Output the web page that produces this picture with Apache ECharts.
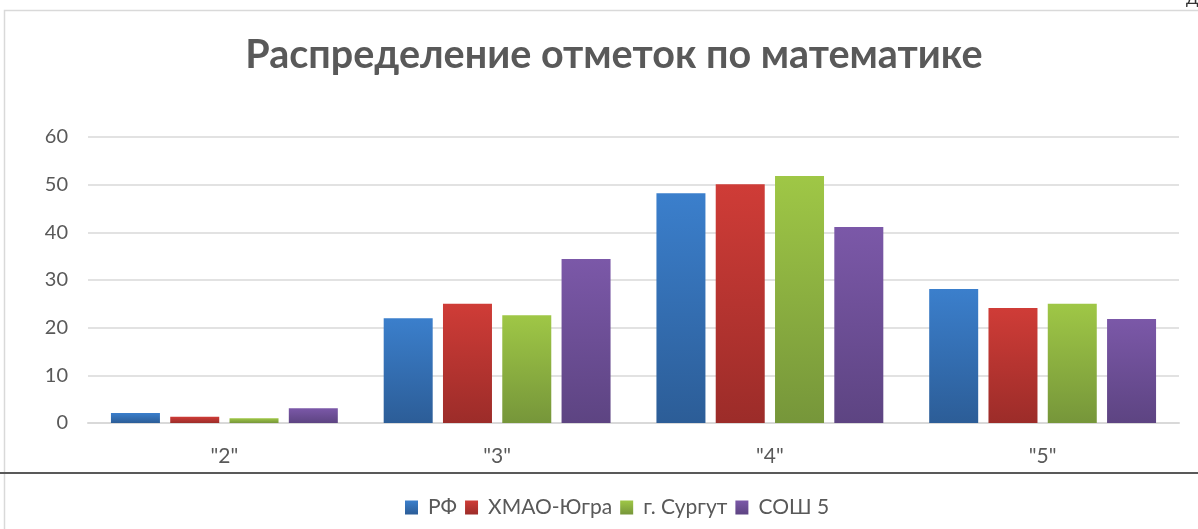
<!DOCTYPE html>
<html>
<head>
<meta charset="utf-8">
<script src="https://cdn.jsdelivr.net/npm/echarts@6/dist/echarts.min.js"></script>
<style>
  html, body { margin: 0; padding: 0; background: #fff; }
  #chart { width: 1198px; height: 529px; }
</style>
</head>
<body>
<div id="chart"></div>
<script>
// данные диаграммы
var categories = ['"2"', '"3"', '"4"', '"5"']
var seriesNames = ['РФ', 'ХМАО-Югра', 'г. Сургут', 'СОШ 5']
var valuesRF = [2.1, 22.0, 48.2, 28.1]
var valuesHMAO = [1.3, 25.0, 50.1, 24.1]
var valuesSurgut = [1.0, 22.6, 51.8, 25.0]
var valuesSOSH = [3.1, 34.4, 41.1, 21.8]
var yTicks = [0, 10, 20, 30, 40, 50, 60]

var allValues = [valuesRF, valuesHMAO, valuesSurgut, valuesSOSH]
// верх / низ градиента столбцов
var colors = [
  ['#3b7fcc', '#2c5d97'],
  ['#cf3c37', '#9c2c29'],
  ['#9fc746', '#76963a'],
  ['#7b58a8', '#5d4482'],
]
var font = 'Lato, "Open Sans", sans-serif'

var chart = echarts.init(document.getElementById('chart'))

function grad (c) {
  return new echarts.graphic.LinearGradient(0, 0, 0, 1, [
    { offset: 0, color: c[0] },
    { offset: 1, color: c[1] },
  ])
}

chart.setOption({
  animation: false,
  title: {
    text: 'Распределение отметок по математике',
    left: 609,
    textAlign: 'center',
    top: 30,
    textStyle: {
      fontFamily: font,
      fontSize: 39.5,
      fontWeight: 'bold',
      color: '#595959',
    },
  },
  grid: {
    left: 88,
    right: 19,
    top: 137,
    bottom: 106,
  },
  legend: {
    data: seriesNames,
    top: 492,
    left: 400,
    itemWidth: 13,
    itemHeight: 14,
    itemGap: 8,
    icon: 'rect',
    textStyle: {
      fontFamily: font,
      fontSize: 21,
      color: '#595959',
      padding: [0, 0, 0, 5],
    },
  },
  xAxis: {
    type: 'category',
    data: categories,
    axisTick: { show: false },
    axisLine: { lineStyle: { color: '#d9d9d9', width: 2 } },
    axisLabel: {
      fontFamily: font,
      fontSize: 21,
      color: '#595959',
      margin: 23,
    },
  },
  yAxis: {
    type: 'value',
    min: yTicks[0],
    max: yTicks[yTicks.length - 1],
    interval: 10,
    axisLine: { show: false },
    axisTick: { show: false },
    axisLabel: {
      fontFamily: font,
      fontSize: 20,
      color: '#595959',
      margin: 20,
    },
    splitLine: { lineStyle: { color: '#d9d9d9', width: 1.5 } },
  },
  series: seriesNames.map(function (name, i) {
    return {
      name: name,
      type: 'bar',
      data: allValues[i],
      barWidth: 49,
      barGap: '21%',
      itemStyle: { color: grad(colors[i]) },
    }
  }),
  graphic: [
    {
      type: 'rect',
      shape: { x: 4.5, y: 10.5, width: 1300, height: 600 },
      style: { fill: 'none', stroke: '#d9d9d9', lineWidth: 1.5 },
      silent: true,
    },
    {
      type: 'line',
      shape: { x1: 0, y1: 473, x2: 1198, y2: 473 },
      style: { stroke: '#595959', lineWidth: 2 },
      silent: true,
    },
    {
      type: 'text',
      left: 1186,
      top: -9,
      style: { text: 'Д', fontFamily: font, fontSize: 16, fill: '#333' },
      silent: true,
    },
  ],
})
</script>
</body>
</html>
